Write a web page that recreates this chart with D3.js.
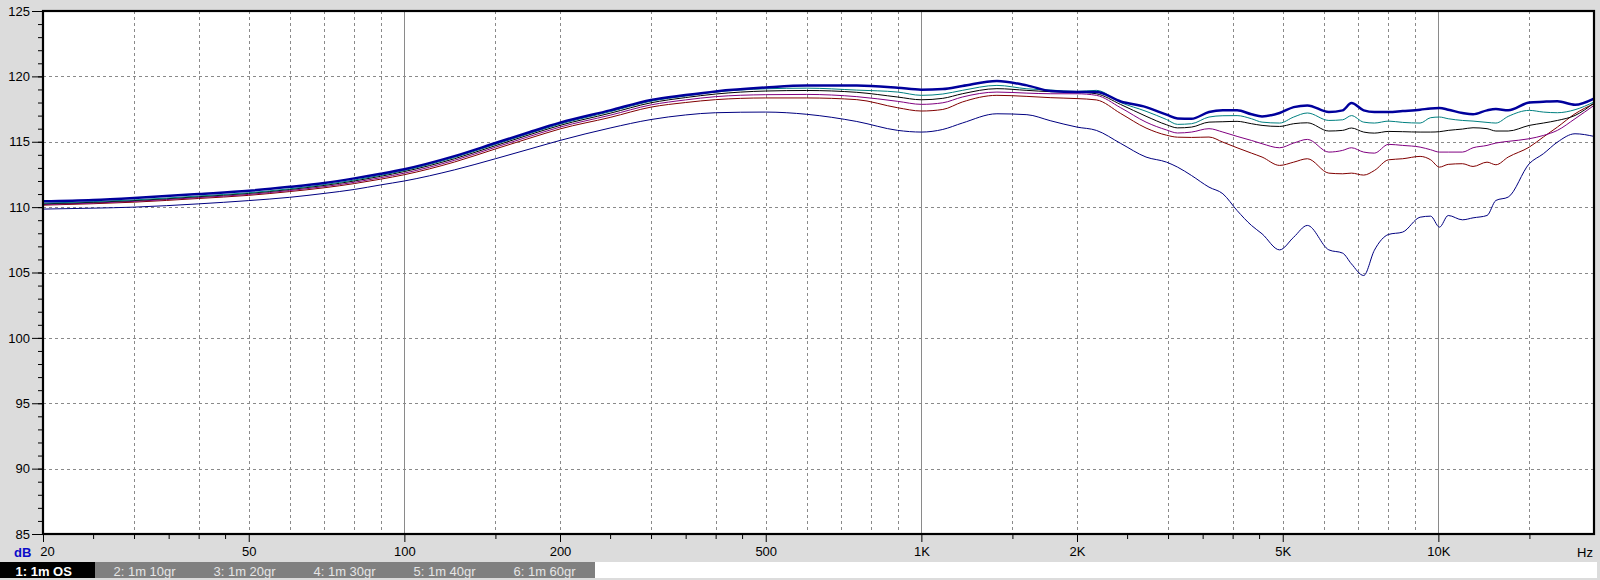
<!DOCTYPE html>
<html><head><meta charset="utf-8">
<script src="https://cdn.jsdelivr.net/npm/d3@7"></script>
<style>html,body{margin:0;padding:0;background:#dcdcdc;} svg{display:block;}</style>
</head><body>
<svg id="chart" width="1600" height="580"></svg>
<script>
const freqs = [20,25,30,40,50,60,70,80,90,100,125,150,175,200,250,300,350,400,500,600,750,
  900,1000,1100,1200,1400,1600,
  1780,2000,2180,2430,2720,2980,3130,3330,3600,3830,
  4080,4350,4560,4930,5250,5580,6140,6530,6790,7170,
  7520,8010,8530,9220,9660,10050,10450,11130,11670,12420,
  12920,13650,14990,15960,16990,18380,20000];

const s1_OS = [110.45,110.55,110.7,111.0,111.25,111.55,111.85,112.2,112.55,112.9,
  113.9,114.9,115.75,116.45,117.4,118.2,118.57,118.85,119.15,119.3,119.3,
  119.13,118.98,119.03,119.26,119.64,119.31,
  118.88,118.8,118.8,118.08,117.65,117.07,116.78,116.76,117.27,117.4,
  117.4,117.1,116.94,117.2,117.65,117.78,117.27,117.4,117.96,117.4,
  117.27,117.27,117.35,117.45,117.55,117.58,117.45,117.2,117.1,117.4,
  117.5,117.4,118.0,118.06,118.1,117.83,118.3];
const s2_10gr = [110.3,110.42,110.55,110.85,111.1,111.4,111.72,112.07,112.43,112.8,
  113.8,114.8,115.65,116.35,117.3,118.1,118.5,118.8,119.05,119.1,118.95,
  118.8,118.55,118.65,118.93,119.31,119.05,
  118.95,118.85,118.93,118.0,117.33,116.7,116.33,116.38,116.89,116.99,
  117.0,116.76,116.5,116.43,116.89,117.2,116.63,116.68,117.0,116.5,
  116.43,116.58,116.48,116.43,116.84,116.89,116.76,116.63,116.58,116.48,
  116.43,116.94,117.4,117.27,117.22,117.45,118.04];
const s3_20gr = [110.25,110.37,110.5,110.8,111.05,111.35,111.66,112.0,112.36,112.72,
  113.7,114.7,115.55,116.25,117.18,117.98,118.38,118.65,118.88,118.92,118.78,
  118.42,118.21,118.32,118.67,119.06,118.93,
  118.83,118.8,118.67,117.85,116.95,116.3,116.06,116.12,116.5,116.53,
  116.56,116.38,116.25,116.17,116.38,116.45,115.82,115.87,116.05,115.74,
  115.66,115.79,115.77,115.74,115.74,115.77,115.87,115.97,116.07,116.0,
  115.82,115.82,116.25,116.43,116.63,117.01,117.96];
const s4_30gr = [110.2,110.31,110.44,110.73,110.97,111.27,111.57,111.9,112.25,112.6,
  113.58,114.58,115.42,116.12,117.03,117.82,118.2,118.45,118.6,118.62,118.45,
  118.09,117.86,117.98,118.42,118.8,118.72,
  118.67,118.67,118.55,117.6,116.5,115.9,115.67,115.74,116.0,115.74,
  115.41,115.1,114.85,114.54,114.9,115.18,114.21,114.34,114.54,114.21,
  114.13,114.8,114.72,114.59,114.39,114.21,114.21,114.21,114.54,114.72,
  114.9,115.03,115.23,115.48,115.87,116.76,117.78];
const s5_40gr = [110.15,110.26,110.38,110.66,110.9,111.19,111.48,111.8,112.14,112.48,
  113.45,114.45,115.28,115.98,116.86,117.65,118.0,118.22,118.35,118.35,118.22,
  117.6,117.35,117.47,118.04,118.55,118.47,
  118.37,118.3,118.2,117.16,116.05,115.5,115.35,115.33,115.36,114.97,
  114.54,114.13,113.83,113.19,113.44,113.7,112.6,112.55,112.6,112.45,
  112.8,113.62,113.7,113.88,113.62,113.06,113.27,113.32,113.11,113.44,
  113.24,113.83,114.59,115.36,116.12,117.14,117.91];
const s6_60gr = [109.85,109.92,110.0,110.25,110.5,110.75,111.05,111.35,111.7,112.0,
  112.85,113.7,114.45,115.1,116.05,116.7,117.05,117.22,117.27,117.1,116.55,
  115.87,115.74,115.94,116.43,117.14,117.07,
  116.6,116.12,115.87,114.87,113.83,113.44,113.06,112.42,111.53,111.02,
  109.74,108.6,107.96,106.73,107.7,108.6,106.73,106.48,105.66,104.77,
  106.7,107.91,108.09,109.23,109.31,108.47,109.36,109.03,109.18,109.36,
  110.51,110.77,113.32,114.08,114.97,115.61,115.41];

const seriesNames = ["1: 1m OS","2: 1m 10gr","3: 1m 20gr","4: 1m 30gr","5: 1m 40gr","6: 1m 60gr"];
const seriesValues = [s1_OS, s2_10gr, s3_20gr, s4_30gr, s5_40gr, s6_60gr];
const seriesColors = ["#00009c","#008080","#000000","#800080","#800000","#000080"];
const seriesWidths = [2.5,1,1,1,1,1];

const yMajorTicks = [85,90,95,100,105,110,115,120,125];
const yMinorTicks = d3.range(85,126,1);
const xLabelValues = [20,50,100,200,500,1000,2000,5000,10000];
const xLabelTexts = ["20","50","100","200","500","1K","2K","5K","10K"];
const xMinorTickValues = [25,30,35,40,45,150,250,300,350,400,450,1500,2500,3000,3500,4000,4500,15000];
const gridDashed = [30,40,50,60,70,80,90,150,200,300,400,500,600,700,800,900,1500,2000,3000,4000,5000,6000,7000,8000,9000,15000];
const gridSolid = [100,1000,10000];
const yGrid = [90,95,100,105,110,115,120];

const FONT = "'Liberation Sans', Arial, sans-serif";
const svg = d3.select("#chart");
const L = 43, R = 1594, T = 11, B = 534;
const x = d3.scaleLog().domain([20,20000]).range([L,R]);
const y = d3.scaleLinear().domain([85,125]).range([B,T]);

svg.append("rect").attr("x",0).attr("y",0).attr("width",1600).attr("height",580).attr("fill","#dcdcdc");
svg.append("rect").attr("x",L).attr("y",T).attr("width",R-L).attr("height",B-T).attr("fill","#ffffff");

// grid
const grid = svg.append("g");
grid.selectAll("line.vd").data(gridDashed).join("line")
  .attr("x1",d=>Math.round(x(d))+0.5).attr("x2",d=>Math.round(x(d))+0.5)
  .attr("y1",T).attr("y2",B).attr("stroke","#8a8a8a").attr("stroke-width",1).attr("stroke-dasharray","3,3");
grid.selectAll("line.vs").data(gridSolid).join("line")
  .attr("x1",d=>Math.round(x(d))+0.5).attr("x2",d=>Math.round(x(d))+0.5)
  .attr("y1",T).attr("y2",B).attr("stroke","#8a8a8a").attr("stroke-width",1);
grid.selectAll("line.h").data(yGrid).join("line")
  .attr("x1",L).attr("x2",R)
  .attr("y1",d=>Math.round(y(d))+0.5).attr("y2",d=>Math.round(y(d))+0.5)
  .attr("stroke","#8a8a8a").attr("stroke-width",1).attr("stroke-dasharray","3,3");

// curves
svg.append("clipPath").attr("id","clip").append("rect").attr("x",L).attr("y",T).attr("width",R-L).attr("height",B-T);
const line = d3.line().x(d=>x(d[0])).y(d=>y(d[1])).curve(d3.curveMonotoneX);
const curves = svg.append("g").attr("clip-path","url(#clip)");
const order = [5,4,3,2,1,0];
order.forEach(i=>{
  const pts = freqs.map((f,k)=>[f, seriesValues[i][k]]);
  curves.append("path").datum(pts).attr("d",line).attr("fill","none")
    .attr("stroke",seriesColors[i]).attr("stroke-width",seriesWidths[i]).attr("stroke-linejoin","round");
});

// frame
svg.append("rect").attr("x",L).attr("y",T).attr("width",R-L).attr("height",B-T)
  .attr("fill","none").attr("stroke","#000").attr("stroke-width",2.2);

// y axis
const yAxisMinor = svg.append("g").attr("transform",`translate(${L},0)`)
  .call(d3.axisLeft(y).tickValues(yMinorTicks).tickSize(5).tickFormat(""));
const yAxis = svg.append("g").attr("transform",`translate(${L},0)`)
  .call(d3.axisLeft(y).tickValues(yMajorTicks).tickSize(11).tickPadding(2));
[yAxisMinor,yAxis].forEach(g=>{g.select(".domain").remove(); g.selectAll("line").attr("stroke","#000");});
yAxis.selectAll("text").attr("font-family",FONT).attr("font-size",13).attr("fill","#000");

// x axis
const xAxisMinor = svg.append("g").attr("transform",`translate(0,${B})`)
  .call(d3.axisBottom(x).tickValues(xMinorTickValues).tickSize(5).tickFormat(""));
const xAxis = svg.append("g").attr("transform",`translate(0,${B})`)
  .call(d3.axisBottom(x).tickValues(xLabelValues).tickSize(8).tickPadding(5)
    .tickFormat((d,i)=>xLabelTexts[i]));
[xAxisMinor,xAxis].forEach(g=>{g.select(".domain").remove(); g.selectAll("line").attr("stroke","#000");});
xAxis.selectAll("text").attr("font-family",FONT).attr("font-size",13).attr("fill","#000")
  .attr("dx",(d,i)=> i===0 ? 4 : 0);

svg.append("text").attr("x",R-1).attr("y",556.5).attr("text-anchor","end")
  .attr("font-family",FONT).attr("font-size",13).attr("fill","#000").text("Hz");
svg.append("text").attr("x",14).attr("y",556.5)
  .attr("font-family",FONT).attr("font-size",13).attr("font-weight","bold").attr("fill","#0a0ac8").text("dB");

// legend
svg.append("rect").attr("x",0).attr("y",562).attr("width",1597).attr("height",16).attr("fill","#ffffff");
const legend = svg.append("g");
seriesNames.forEach((name,i)=>{
  const x0 = i===0 ? 0 : 95 + (i-1)*100;
  const w = i===0 ? 95 : 100;
  legend.append("rect").attr("x",x0).attr("y",562).attr("width",w).attr("height",16)
    .attr("fill", i===0 ? "#000000" : "#808080");
  legend.append("text").attr("x", i===0 ? 15.5 : x0+18.5).attr("y",575.5)
    .attr("font-family",FONT).attr("font-size",13)
    .attr("font-weight", i===0 ? "bold" : "normal")
    .attr("fill", i===0 ? "#ffffff" : "#e6e6e6").text(name);
});
</script>
</body></html>
